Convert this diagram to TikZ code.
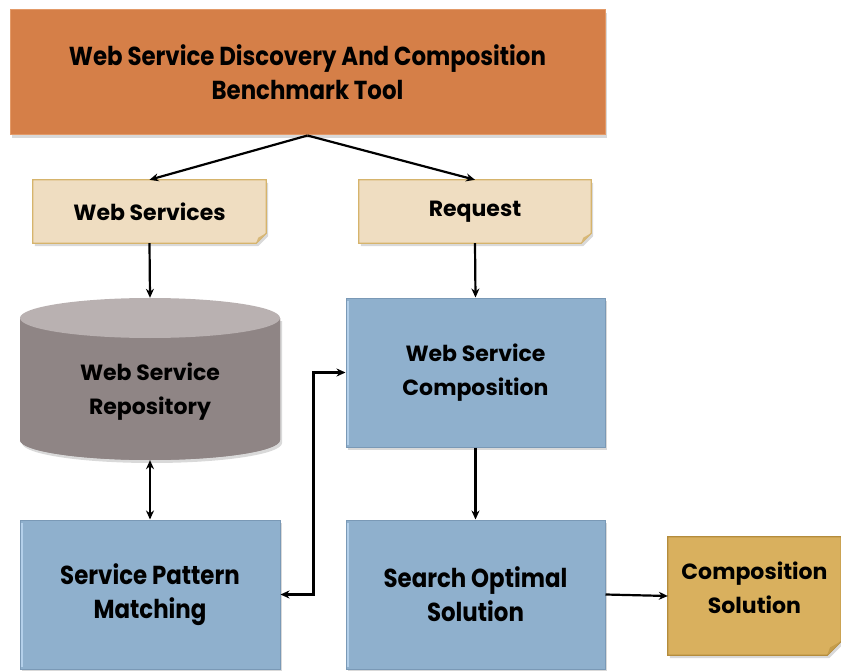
\documentclass[tikz,border=0pt]{standalone}
\usepackage{fontspec}
\setmainfont{Poppins}
\newfontfamily\condfont{Poppins}[FakeStretch=0.88]
\usetikzlibrary{arrows.meta,shadows,calc}
\definecolor{orangefill}{HTML}{D57F48}
\definecolor{orangeedge}{HTML}{E39A68}
\definecolor{beigefill}{HTML}{EFDDC1}
\definecolor{beigeedge}{HTML}{D6B46C}
\definecolor{beigefold}{HTML}{D8B878}
\definecolor{bluefill}{HTML}{8FB0CD}
\definecolor{blueedge}{HTML}{7A99B6}
\definecolor{bluelight}{HTML}{B4D0EA}
\definecolor{cyltop}{HTML}{B9B1B1}
\definecolor{cylbody}{HTML}{8F8585}
\definecolor{goldfill}{HTML}{D9B05E}
\definecolor{goldedge}{HTML}{B48C3C}
\definecolor{goldfold}{HTML}{C49C4A}
\tikzset{
  shd/.style={drop shadow={opacity=0.3,shadow xshift=2pt,shadow yshift=-3pt}},
  lbl/.style={font=\fontsize{22}{34}\selectfont\bfseries, align=center, text=black},
  clbl/.style={font=\fontsize{26}{34}\selectfont\condfont\bfseries, align=center, text=black},
  mainbox/.style={rectangle, fill=orangefill, draw=orangeedge, line width=1pt, shd, inner sep=0pt},
  bluebox/.style={rectangle, fill=bluefill, draw=blueedge, line width=1pt, shd, inner sep=0pt},
  ghost/.style={rectangle, inner sep=0pt},
  arr/.style={line width=2.2pt, -{Stealth[length=9pt,width=8pt]}},
  darr/.style={line width=2.2pt, {Stealth[length=9pt,width=8pt]}-{Stealth[length=9pt,width=8pt]}},
}
\begin{document}
\begin{tikzpicture}[x=1pt,y=-1pt]
\useasboundingbox (0,0) rectangle (841,671);
% top box
\node[mainbox, minimum width=595pt, minimum height=125pt, clbl] (top) at (307.5,72.5)
  {Web Service Discovery And Composition\\Benchmark Tool};
% notes
\node[ghost, minimum width=233pt, minimum height=63pt] (ws) at (149.5,211.5) {};
\node[ghost, minimum width=232pt, minimum height=63pt] (req) at (475,211.5) {};
\node[ghost, minimum width=173pt, minimum height=118pt] (cs) at (754.5,596) {};
\foreach \n/\f/\e/\d/\c in {ws/beigefill/beigeedge/beigefold/10, req/beigefill/beigeedge/beigefold/10, cs/goldfill/goldedge/goldfold/14}{
  \draw[fill=\f, draw=\e, line width=1.2pt, shd]
    (\n.north west) -- (\n.north east) -- ([yshift=\c pt]\n.south east)
    -- ([xshift=-\c pt]\n.south east) -- (\n.south west) -- cycle;
  \fill[\d] ([xshift=-\c pt]\n.south east) -- ([yshift=\c pt]\n.south east)
    -- ([xshift=-0.8*\c pt,yshift=0.55*\c pt]\n.south east) -- cycle;
}
\node[lbl] at (ws) {Web Services};
\node[lbl] at (req) {Request};
\node[lbl] at ([yshift=8pt]cs.center) {Composition\\Solution};
% repository cylinder
\node[ghost, minimum width=260pt, minimum height=162pt] (repo) at (150,379) {};
\fill[cylbody, shd] (20,318) -- (20,440) arc[start angle=180, end angle=360, x radius=130, y radius=-20]
  -- (280,318) -- cycle;
\fill[cylbody] (20,318) -- (20,440) arc[start angle=180, end angle=360, x radius=130, y radius=-20]
  -- (280,318) -- cycle;
\fill[cyltop] (150,318) ellipse[x radius=130, y radius=20];
\node[lbl] at (150,392) {Web Service\\Repository};
% blue boxes
\node[bluebox, minimum width=259pt, minimum height=149pt, lbl] (wsc) at (475.5,372.5) {Web Service\\Composition};
\node[bluebox, minimum width=260pt, minimum height=149pt, clbl] (spm) at (150,594.5) {Service Pattern\\Matching};
\node[bluebox, minimum width=259pt, minimum height=149pt, clbl] (sos) at (475.5,594.5) {Search Optimal\\Solution};
\foreach \n in {wsc,spm,sos}{
  \draw[bluelight, line width=2pt] ([xshift=2pt,yshift=-3pt]\n.north west) -- ([xshift=2pt,yshift=3pt]\n.south west);
}
% connectors
\draw[arr] (top.south) -- (ws.north);
\draw[arr] (top.south) -- (req.north);
\draw[arr] (ws.south) -- (repo.north);
\draw[arr] (req.south) -- (wsc.north);
\draw[darr] (repo.south) -- (spm.north);
\draw[arr] (wsc.south) -- (sos.north);
\draw[darr] (spm.east) -- ++(33,0) |- (wsc.west);
\draw[arr] (sos.east) -- (cs.west);
\end{tikzpicture}
\end{document}
